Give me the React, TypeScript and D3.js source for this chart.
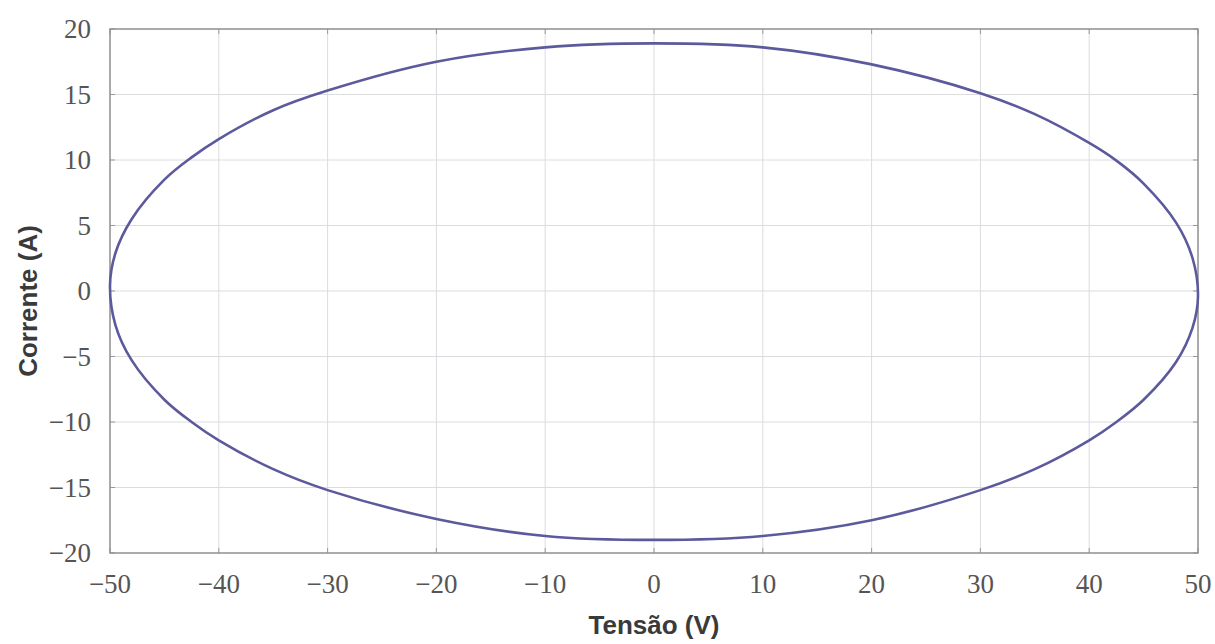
import React from "react";
import * as d3 from "d3";

// Voltage (V) and current (A) samples
const tensao = [
  -50, -49.5, -48, -45, -42.5, -40, -35, -30, -20, -10, 0, 10, 20, 30, 35, 40, 42.5, 45, 48, 49.5,
  50, 49.5, 48, 45, 42.5, 40, 35, 30, 20, 10, 0, -10, -20, -30, -35, -40, -42.5, -45, -48, -49.5,
];
const corrente = [
  0.4, 2.9, 5.5, 8.5, 10.2, 11.6, 13.8, 15.3, 17.5, 18.6, 18.9, 18.6, 17.3, 15.1, 13.5, 11.3, 9.95, 8.2, 5.2, 2.5,
  -0.4, -2.8, -5.4, -8.3, -10.0, -11.4, -13.6, -15.2, -17.5, -18.7, -19.0, -18.7, -17.4, -15.2, -13.6, -11.4, -10.0, -8.3, -5.3, -2.6,
];
const xTicks = [-50, -40, -30, -20, -10, 0, 10, 20, 30, 40, 50];
const yTicks = [-20, -15, -10, -5, 0, 5, 10, 15, 20];
const xLabel = "Tensão (V)";
const yLabel = "Corrente (A)";

const W = 1215;
const H = 644;
const M = { left: 110, right: 1198, top: 29, bottom: 553 };

export default function App() {
  const x = d3.scaleLinear().domain([-50, 50]).range([M.left, M.right]);
  const y = d3.scaleLinear().domain([-20, 20]).range([M.bottom, M.top]);
  const pts: [number, number][] = tensao.map((v, i) => [v, corrente[i]]);
  const line = d3
    .line<[number, number]>()
    .x((d) => x(d[0]))
    .y((d) => y(d[1]))
    .curve(d3.curveCatmullRomClosed.alpha(0.5));
  const fmt = (v: number) => (v < 0 ? "\u2212" + Math.abs(v) : String(v));
  const tickLen = 5;
  return (
    <svg
      width={W}
      height={H}
      style={{ position: "absolute", left: 0, top: 0, background: "#fff" }}
    >
      <rect x={0} y={0} width={W} height={H} fill="#fff" />
      {/* grid */}
      <g stroke="#dcdce0" strokeWidth={1}>
        {xTicks.slice(1, -1).map((t) => (
          <line key={"gx" + t} x1={x(t)} x2={x(t)} y1={M.top} y2={M.bottom} />
        ))}
        {yTicks.slice(1, -1).map((t) => (
          <line key={"gy" + t} x1={M.left} x2={M.right} y1={y(t)} y2={y(t)} />
        ))}
      </g>
      {/* ticks */}
      <g stroke="#999" strokeWidth={1}>
        {xTicks.map((t) => (
          <g key={"tx" + t}>
            <line x1={x(t)} x2={x(t)} y1={M.bottom} y2={M.bottom - tickLen} />
            <line x1={x(t)} x2={x(t)} y1={M.top} y2={M.top + tickLen} />
          </g>
        ))}
        {yTicks.map((t) => (
          <g key={"ty" + t}>
            <line x1={M.left} x2={M.left + tickLen} y1={y(t)} y2={y(t)} />
            <line x1={M.right} x2={M.right - tickLen} y1={y(t)} y2={y(t)} />
          </g>
        ))}
      </g>
      {/* frame */}
      <rect
        x={M.left}
        y={M.top}
        width={M.right - M.left}
        height={M.bottom - M.top}
        fill="none"
        stroke="#8f8f8f"
        strokeWidth={1.5}
      />
      {/* curve */}
      <path d={line(pts) || ""} fill="none" stroke="#5c5a9c" strokeWidth={2.6} />
      {/* tick labels */}
      <g fontFamily="'Liberation Serif', 'DejaVu Serif', serif" fontSize={27} fill="#555">
        {xTicks.map((t) => (
          <text key={"lx" + t} x={x(t)} y={593} textAnchor="middle">
            {fmt(t)}
          </text>
        ))}
        {yTicks.map((t) => (
          <text key={"ly" + t} x={91} y={y(t)} textAnchor="end" dominantBaseline="central">
            {fmt(t)}
          </text>
        ))}
      </g>
      {/* axis labels */}
      <text
        x={(M.left + M.right) / 2}
        y={634}
        textAnchor="middle"
        fontFamily="'Liberation Sans', Arial, sans-serif"
        fontWeight="bold"
        fontSize={26}
        fill="#3a3a3a"
      >
        {xLabel}
      </text>
      <text
        transform={`translate(37, ${(M.top + M.bottom) / 2 + 10}) rotate(-90)`}
        textAnchor="middle"
        fontFamily="'Liberation Sans', Arial, sans-serif"
        fontWeight="bold"
        fontSize={26}
        fill="#3a3a3a"
      >
        {yLabel}
      </text>
    </svg>
  );
}
